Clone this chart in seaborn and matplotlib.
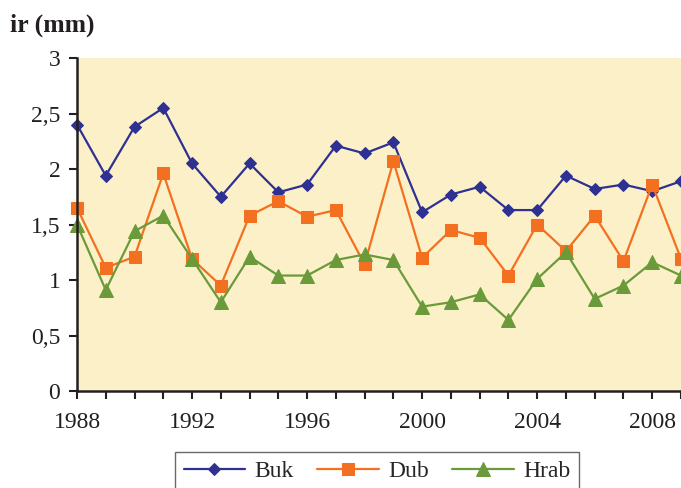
import numpy as np
import pandas as pd
import seaborn as sns
import matplotlib.pyplot as plt

years = list(range(1988, 2010))
buk = [2.40, 1.94, 2.38, 2.55, 2.05, 1.75, 2.05, 1.79, 1.86, 2.21, 2.14,
       2.24, 1.61, 1.77, 1.84, 1.63, 1.63, 1.94, 1.82, 1.86, 1.80, 1.89]
dub = [1.65, 1.11, 1.21, 1.96, 1.19, 0.95, 1.58, 1.71, 1.57, 1.63, 1.14,
       2.07, 1.20, 1.45, 1.38, 1.04, 1.50, 1.26, 1.58, 1.17, 1.86, 1.19]
hrab = [1.50, 0.91, 1.44, 1.58, 1.19, 0.80, 1.21, 1.04, 1.04, 1.18, 1.23,
        1.18, 0.76, 0.80, 0.87, 0.64, 1.01, 1.25, 0.83, 0.95, 1.16, 1.04]
ytick_labels = ["0", "0,5", "1", "1,5", "2", "2,5", "3"]

sns.set_style("ticks")
plt.rcParams['font.family'] = ['Liberation Serif', 'DejaVu Serif']

fig = plt.figure(figsize=(6.81, 4.88), dpi=100)
ax = fig.add_axes([77 / 681, 97 / 488, 604 / 681, 333 / 488])
ax.set_facecolor('#FCF0C8')

series = [
    ("Buk", buk, '#2E3192', 'D', 6.5),
    ("Dub", dub, '#F37021', 's', 8.5),
    ("Hrab", hrab, '#6A9A3A', '^', 9.5),
]
for name, vals, col, mk, ms in series:
    sns.lineplot(x=years, y=vals, ax=ax, color=col, marker=mk, markersize=ms,
                 markeredgecolor=col, linewidth=1.6, label=name, clip_on=False)

ax.set_xlim(1988, 2009)
ax.set_ylim(0, 3)
ax.set_xticks(years)
ax.set_xticklabels([str(y) if (y - 1988) % 4 == 0 else "" for y in years])
ax.set_yticks([0, 0.5, 1, 1.5, 2, 2.5, 3])
ax.set_yticklabels(ytick_labels)
ax.tick_params(axis='both', labelsize=17, colors='#231F20', length=6, width=1.5)
ax.tick_params(axis='x', pad=9)
ax.tick_params(axis='y', pad=6)
for s in ['top', 'right']:
    ax.spines[s].set_visible(False)
for s in ['left', 'bottom']:
    ax.spines[s].set_color('#231F20')
    ax.spines[s].set_linewidth(1.8)
ax.set_xlabel("")
ax.set_ylabel("")

fig.text(10 / 681, 1 - 25 / 488, "ir (mm)", fontsize=18.5, fontweight='bold',
         va='center', ha='left', color='#231F20')

leg = fig.legend(*ax.get_legend_handles_labels(), loc='upper center',
                 bbox_to_anchor=(377 / 681, 1 - 452 / 488), ncol=3,
                 fontsize=17, frameon=True, fancybox=False, handlelength=2.6,
                 handletextpad=0.4, columnspacing=1.0, borderpad=0.35,
                 borderaxespad=0)
leg.get_frame().set_edgecolor('#444444')
leg.get_frame().set_linewidth(1.0)
ax.get_legend().remove()

fig.savefig("out.png", dpi=100)
